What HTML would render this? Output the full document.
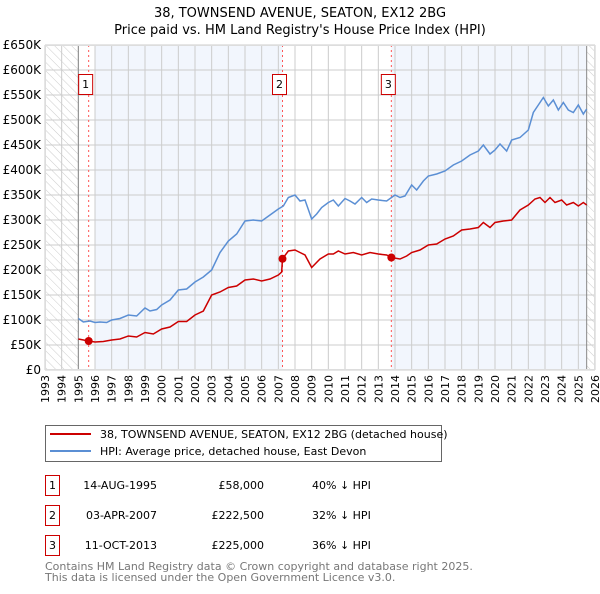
<!DOCTYPE html>
<html><head><meta charset="utf-8"><style>
body{margin:0;background:#fff;font-family:"DejaVu Sans","Liberation Sans",sans-serif;}
svg text{font-family:"DejaVu Sans","Liberation Sans",sans-serif;}
</style></head><body>
<svg id="chart" width="600" height="590" xmlns="http://www.w3.org/2000/svg">
<defs><pattern id="hatch" width="6" height="6" patternUnits="userSpaceOnUse" patternTransform="rotate(-45)"><rect width="6" height="6" fill="#fff"/><line x1="0" y1="0" x2="0" y2="6" stroke="#ccc" stroke-width="1"/></pattern></defs>
<text x="300" y="17" text-anchor="middle" font-size="13" fill="#000">38, TOWNSEND AVENUE, SEATON, EX12 2BG</text>
<text x="300" y="34" text-anchor="middle" font-size="13" fill="#000">Price paid vs. HM Land Registry's House Price Index (HPI)</text>
<g id="plot"></g>
<g id="legend">
<rect x="45.5" y="425.5" width="396" height="36" fill="#fff" stroke="#666"/>
<line x1="50" y1="434" x2="91" y2="434" stroke="#cc0000" stroke-width="2"/>
<text x="100" y="438" font-size="11">38, TOWNSEND AVENUE, SEATON, EX12 2BG (detached house)</text>
<line x1="50" y1="451" x2="91" y2="451" stroke="#5b8fd4" stroke-width="2"/>
<text x="100" y="455" font-size="11">HPI: Average price, detached house, East Devon</text>
</g>
<g id="table" font-size="11">
<rect x="45.5" y="475.5" width="14" height="20" fill="#fff" stroke="#cc0000"/><text x="52.5" y="489" text-anchor="middle">1</text>
<text x="157" y="489" text-anchor="end">14-AUG-1995</text>
<text x="264" y="489" text-anchor="end">£58,000</text>
<text x="312" y="489">40% ↓ HPI</text>
<rect x="45.5" y="505.5" width="14" height="20" fill="#fff" stroke="#cc0000"/><text x="52.5" y="519" text-anchor="middle">2</text>
<text x="157" y="519" text-anchor="end">03-APR-2007</text>
<text x="264" y="519" text-anchor="end">£222,500</text>
<text x="312" y="519">32% ↓ HPI</text>
<rect x="45.5" y="535.5" width="14" height="20" fill="#fff" stroke="#cc0000"/><text x="52.5" y="549" text-anchor="middle">3</text>
<text x="157" y="549" text-anchor="end">11-OCT-2013</text>
<text x="264" y="549" text-anchor="end">£225,000</text>
<text x="312" y="549">36% ↓ HPI</text>
</g>
<text x="45" y="570" font-size="11" fill="#777">Contains HM Land Registry data © Crown copyright and database right 2025.</text>
<text x="45" y="581" font-size="11" fill="#777">This data is licensed under the Open Government Licence v3.0.</text>
</svg>
<script>
const yTicks=[0,50,100,150,200,250,300,350,400,450,500,550,600,650];
const yTickLabels=["£0","£50K","£100K","£150K","£200K","£250K","£300K","£350K","£400K","£450K","£500K","£550K","£600K","£650K"];
const years=[1993,1994,1995,1996,1997,1998,1999,2000,2001,2002,2003,2004,2005,2006,2007,2008,2009,2010,2011,2012,2013,2014,2015,2016,2017,2018,2019,2020,2021,2022,2023,2024,2025,2026];
const hpiT=[1995,1995.3,1995.7,1996,1996.3,1996.7,1997,1997.5,1998,1998.5,1999,1999.3,1999.7,2000,2000.5,2001,2001.5,2002,2002.5,2003,2003.5,2004,2004.5,2005,2005.5,2006,2006.5,2007,2007.3,2007.6,2008,2008.3,2008.6,2009,2009.3,2009.6,2010,2010.3,2010.6,2011,2011.3,2011.6,2012,2012.3,2012.6,2013,2013.5,2014,2014.3,2014.6,2015,2015.3,2015.7,2016,2016.5,2017,2017.5,2018,2018.5,2019,2019.3,2019.7,2020,2020.3,2020.7,2021,2021.5,2022,2022.3,2022.6,2022.9,2023.2,2023.5,2023.8,2024.1,2024.4,2024.7,2025,2025.3,2025.5];
const hpiV=[103,96,98,95,96,95,100,103,110,108,124,118,121,130,140,160,162,176,186,200,235,258,272,298,300,298,310,322,328,345,350,338,340,302,312,325,335,340,328,343,338,332,345,335,342,340,338,350,345,348,370,360,378,388,392,398,410,418,430,438,450,432,440,452,438,460,465,480,515,530,545,528,540,520,535,520,515,530,512,522];
const paidT=[1995,1995.62,1996,1996.5,1997,1997.5,1998,1998.5,1999,1999.5,2000,2000.5,2001,2001.5,2002,2002.5,2003,2003.5,2004,2004.5,2005,2005.5,2006,2006.5,2007,2007.2,2007.25,2007.6,2008,2008.3,2008.6,2009,2009.5,2010,2010.3,2010.6,2011,2011.5,2012,2012.5,2013,2013.5,2013.78,2014.3,2014.7,2015,2015.5,2016,2016.5,2017,2017.5,2018,2018.5,2019,2019.3,2019.7,2020,2020.5,2021,2021.5,2022,2022.4,2022.7,2023,2023.3,2023.6,2024,2024.3,2024.7,2025,2025.3,2025.5];
const paidV=[62,58,56,57,60,62,68,66,75,72,82,86,97,97,110,118,150,156,165,168,180,182,178,182,190,196,222.5,238,240,235,230,205,222,232,232,238,232,235,230,235,232,230,225,222,228,235,240,250,252,262,268,280,282,285,295,285,295,298,300,320,330,342,345,335,345,335,340,330,335,328,335,330];
const sales=[[1995.62,58],[2007.25,222.5],[2013.78,225]];
const X0=45,X1=595,Y0=370,Y1=45;
const x=t=>X0+(t-1993)/33*(X1-X0);
const y=v=>Y0-v/650*(Y0-Y1);
const NS="http://www.w3.org/2000/svg";
const g=document.getElementById('plot');
function mk(tag,attrs){const e=document.createElementNS(NS,tag);for(const k in attrs)e.setAttribute(k,attrs[k]);g.appendChild(e);return e;}
let e;
e=mk('rect',{x:X0,y:Y1,width:X1-X0,height:Y0-Y1,fill:'#fff'});


e=mk('rect',{x:x(1996),y:Y1,width:x(2007.25)-x(1996),height:Y0-Y1,fill:'#eef3fc',opacity:0.75});


e=mk('rect',{x:x(2013.78),y:Y1,width:x(2025.5)-x(2013.78),height:Y0-Y1,fill:'#eef3fc',opacity:0.75});


e=mk('rect',{x:X0,y:Y1,width:x(1995)-X0,height:Y0-Y1,fill:'url(#hatch)'});


e=mk('rect',{x:x(2025.5),y:Y1,width:X1-x(2025.5),height:Y0-Y1,fill:'url(#hatch)'});


years.forEach(yr=>{
 e=mk('line',{x1:x(yr),x2:x(yr),y1:Y1,y2:Y0,stroke:'#ccc','stroke-width':1});
 
 
 e=mk('text',{x:0,y:0,'font-size':11,'text-anchor':'end',transform:`translate(${x(yr)+4},${Y0+5}) rotate(-90)`});
 e.textContent=yr;
 
 
});
yTicks.forEach((v,i)=>{
 e=mk('line',{x1:X0,x2:X1,y1:y(v),y2:y(v),stroke:'#ccc','stroke-width':1});
 
 
 e=mk('text',{x:X0-4,y:y(v)+4,'font-size':12,'text-anchor':'end'});
 e.textContent=yTickLabels[i];
 
 
});
e=mk('line',{x1:x(1995),x2:x(1995),y1:Y1,y2:Y0,stroke:'#888'});


e=mk('line',{x1:x(2025.5),x2:x(2025.5),y1:Y1,y2:Y0,stroke:'#888'});


sales.forEach((s,i)=>{
 e=mk('line',{x1:x(s[0]),x2:x(s[0]),y1:Y1,y2:Y0,stroke:'#f55','stroke-dasharray':'2,3'});
 
 
});
e=mk('polyline',{points:hpiT.map((t,i)=>x(t)+','+y(hpiV[i])).join(' '),fill:'none',stroke:'#5b8fd4','stroke-width':1.5});


e=mk('polyline',{points:paidT.map((t,i)=>x(t)+','+y(paidV[i])).join(' '),fill:'none',stroke:'#cc0000','stroke-width':1.5});


sales.forEach((s,i)=>{
 e=mk('circle',{cx:x(s[0]),cy:y(s[1]),r:4,fill:'#cc0000'});
 
 
 const bx=x(s[0])-10;
 e=mk('rect',{x:bx,y:74.5,width:14,height:20,fill:'#fff',stroke:'#cc0000'});
 
 
 e=mk('text',{x:bx+7,y:88,'font-size':11,'text-anchor':'middle'});
 e.textContent=i+1;
 
 
});
e=mk('rect',{x:X0+0.5,y:Y1+0.5,width:X1-X0-1,height:Y0-Y1-1,fill:'none',stroke:'#ddd'});


</script>
</body></html>
